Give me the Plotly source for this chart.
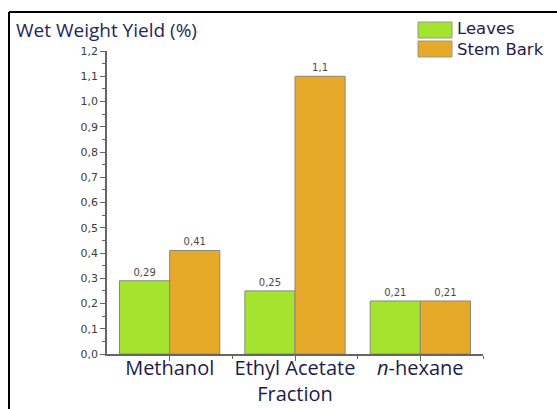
import plotly.graph_objects as go

# Extraction yield data
categories = ["Methanol", "Ethyl Acetate<br>Fraction", "<i>n</i>-hexane"]
leaves = [0.29, 0.25, 0.21]
stem_bark = [0.41, 1.1, 0.21]
series_names = ["Leaves", "Stem Bark"]
y_ticks = [0.0, 0.1, 0.2, 0.3, 0.4, 0.5, 0.6, 0.7, 0.8, 0.9, 1.0, 1.1, 1.2]

GREEN = "#A4E42E"
ORANGE = "#E6A92A"
W, H = 557, 409
L, R, T, B = 107, 74, 51, 55


def fmt(v):
    return ("%g" % v).replace(".", ",")


def px(x):
    return (x - L) / (W - L - R)


def py(y):
    return (H - B - y) / (H - T - B)


x_pos = list(range(len(categories)))

fig = go.Figure()
for vals, color, name in [(leaves, GREEN, series_names[0]), (stem_bark, ORANGE, series_names[1])]:
    fig.add_trace(go.Bar(
        x=x_pos, y=vals, name=name,
        marker=dict(color=color, line=dict(color="#8a8a7a", width=1)),
        text=[fmt(v) for v in vals], textposition="outside",
        textfont=dict(family="DejaVu Sans", size=10, color="#4a4a4a"),
        cliponaxis=False, showlegend=False,
    ))

fig.update_layout(
    width=W, height=H,
    margin=dict(l=L, r=R, t=T, b=B, autoexpand=False),
    paper_bgcolor="white", plot_bgcolor="white",
    barmode="group", bargap=0.2, bargroupgap=0,
    separators=",.",
    font=dict(family="Open Sans"),
    xaxis=dict(
        range=[-0.5, 2.5], tickvals=x_pos, ticktext=categories,
        automargin=False, ticklabelstandoff=-10,
        showgrid=False, zeroline=False,
        showline=True, linecolor="#666666", linewidth=1.5,
        ticks="outside", ticklen=5, tickcolor="#666666",
        tickfont=dict(family="Open Sans", size=20, color="#1c1c4c"),
        minor=dict(tickvals=[0.5, 1.5, 2.5], ticks="outside", ticklen=3, tickcolor="#666666"),
    ),
    yaxis=dict(
        range=[0, 1.2], tickvals=y_ticks, tickformat=".1f",
        automargin=False,
        showgrid=False, zeroline=False,
        showline=True, linecolor="#666666", linewidth=1.5,
        ticks="outside", ticklen=5, tickcolor="#666666",
        tickfont=dict(family="DejaVu Sans", size=11, color="#3c3c3c"),
        minor=dict(dtick=0.05, ticks="outside", ticklen=3, tickcolor="#666666"),
    ),
)

# Frame lines along the top and left of the figure
fig.add_shape(type="line", xref="paper", yref="paper",
              x0=px(9), x1=px(W + 5), y0=py(12), y1=py(12),
              line=dict(color="black", width=2))
fig.add_shape(type="line", xref="paper", yref="paper",
              x0=px(9), x1=px(9), y0=py(12), y1=py(H + 5),
              line=dict(color="black", width=2))

# Axis title
fig.add_annotation(xref="paper", yref="paper", x=px(14), y=py(30),
                   xanchor="left", yanchor="middle", showarrow=False,
                   text="Wet Weight Yield (%)",
                   font=dict(family="Open Sans", size=19, color="#26265a"))

# Legend swatches and labels
for i, color in enumerate([GREEN, ORANGE]):
    y0 = 22 + i * 19
    fig.add_shape(type="rect", xref="paper", yref="paper",
                  x0=px(418), x1=px(452), y0=py(y0), y1=py(y0 + 16),
                  fillcolor=color, line=dict(color="#9a9a8a", width=1))
fig.add_annotation(xref="paper", yref="paper", x=px(455), y=py(39),
                   xanchor="left", yanchor="middle", align="left", showarrow=False,
                   text="<br>".join(series_names),
                   font=dict(family="DejaVu Sans", size=16.5, color="#2a1a4a"))

fig.write_html("out.html")
